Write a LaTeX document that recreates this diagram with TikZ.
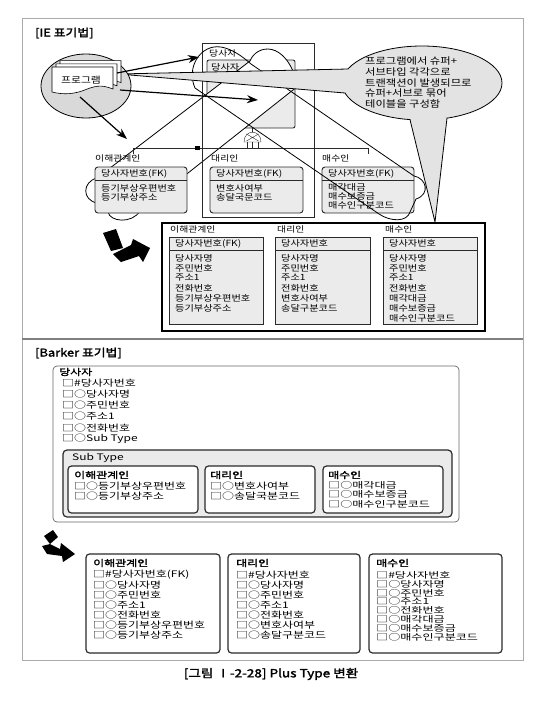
\documentclass[tikz,border=0pt]{standalone}
\usepackage{fontspec}
\setmainfont{Noto Sans CJK KR}[FakeStretch=1.2,AutoFakeBold=2]
\newfontfamily\bkfont{Noto Sans CJK KR}[FakeStretch=1.33,AutoFakeBold=2]
\newfontfamily\bkflat{Noto Sans CJK KR}[FakeStretch=1.42,AutoFakeBold=2]
\usetikzlibrary{arrows.meta}

\definecolor{boxgray}{HTML}{EBEBEB}
\definecolor{ink}{HTML}{2A2A2A}
\definecolor{framegray}{HTML}{ABABAB}
\definecolor{callgray}{HTML}{E3E3E3}

\tikzset{
  txt/.style={inner sep=0pt, anchor=west, font=\fontsize{8.5}{10}\selectfont},
  lbl/.style={inner sep=0pt, anchor=west, font=\fontsize{8.2}{10}\selectfont},
  title/.style={inner sep=0pt, anchor=west, font=\fontsize{10.7}{12}\selectfont\bfseries},
  btxt/.style={inner sep=0pt, anchor=west, font=\bkfont\fontsize{9}{10}\selectfont},
  bflat/.style={inner sep=0pt, anchor=west, font=\bkflat\fontsize{8.5}{9}\selectfont},
  bhead/.style={inner sep=0pt, anchor=west, font=\bkfont\fontsize{9}{10}\selectfont\bfseries},
  iebox/.style={draw=ink, line width=0.9pt, fill=boxgray},
  bkbox/.style={draw=ink, line width=1.2pt, fill=white, rounded corners=3.5pt},
  arr/.style={line width=1.2pt, -{Stealth[length=11pt,width=8pt]}},
  cross/.style={line width=0.8pt},
}

\begin{document}
\begin{tikzpicture}[x=1pt,y=-1pt]
\useasboundingbox (0,0) rectangle (550,704);

% frame
\draw[framegray, line width=0.8pt] (22,18) rectangle (523,660);
\draw[gray, line width=1.1pt] (22,339) -- (523,339);

%%% IE
\node[title] (ietitle) at (35,33) {[IE 표기법]};

% super type, crossed out
\filldraw[iebox, rounded corners=2pt] (207,60) rectangle (295,128);
\node[txt] (supkey) at (211,67) {당사자};
\draw[ink] (207,74) -- (295,74);
\filldraw[cross, fill=white] (250,61) .. controls (256,45) and (286,38) .. (298,86)
  -- (140,211) .. controls (132,224) and (110,222) .. (108,212)
  -- (97,203) .. controls (82,200) and (82,182) .. (97,178) -- cycle;

\draw[ink, line width=0.8pt] (202,43) rectangle (314,217);
\node[lbl] (suplbl) at (209,53) {당사자};

% subtype mark
\draw[ink] (252.5,128) -- (252.5,132);
\draw[ink] (244,142) .. controls (244,129) and (261,129) .. (261,142) -- cycle;
\draw[ink] (246.5,134) -- (258.5,141) (258.5,134) -- (246.5,141);
\foreach \x in {247,252.5,258}
  \draw[ink] (\x,142) -- (\x,148);
\draw[ink] (133,154) -- (133,148) -- (368,148) -- (368,154);
\fill (195,146) rectangle (200,150);

% subtypes
\node[lbl] (s1lbl) at (95,158) {이해관계인};
\node[lbl] (s2lbl) at (211,158) {대리인};
\node[lbl] (s3lbl) at (322,158) {매수인};

\filldraw[iebox, rounded corners=3pt] (95,167) rectangle (187,213);
\draw[ink] (95,180) -- (187,180);
\node[txt] (s1key) at (101,173.5) {당사자번호(FK)};
\foreach \t [count=\i from 0] in {등기부상우편번호,등기부상주소}
  \node[txt] (s1a\i) at (101,188+9.5*\i) {\t};

\filldraw[iebox, rounded corners=3pt] (210,167) rectangle (303,213);
\draw[ink] (210,180) -- (303,180);
\node[txt] (s2key) at (216,173.5) {당사자번호(FK)};
\foreach \t [count=\i from 0] in {변호사여부,송달국문코드}
  \node[txt] (s2a\i) at (216,188+9.5*\i) {\t};

\filldraw[iebox, rounded corners=3pt] (322,167) rectangle (414,213);
\draw[ink] (322,180) -- (414,180);
\node[txt] (s3key) at (328,173.5) {당사자번호(FK)};
\foreach \t [count=\i from 0] in {매각대금,매수보증금,매수인구분코드}
  \node[txt] (s3a\i) at (328,187+9*\i) {\t};

\draw[cross] (195,88) .. controls (186,68) and (200,44) .. (221,47)
  .. controls (232,49) and (242,56) .. (251,64) -- (414,176)
  .. controls (426,178) and (431,194) .. (416,199) -- (410,212)
  .. controls (407,222) and (391,222) .. (379,214) -- cycle;

% callout
\fill[callgray] (118,74) -- (348,69) -- (352,81) -- (345,93) -- cycle;
\fill[callgray] (410,119.6) -- (435,222) -- (447,118) -- (430,112) -- cycle;
\filldraw[draw=black, fill=callgray, line width=0.8pt] (422,83) ellipse [x radius=80, y radius=37];
\fill[callgray] (118,74) -- (348,69) -- (352,81) -- (345,93) -- cycle;
\fill[callgray] (410,119.6) -- (435,222) -- (447,118) -- (430,112) -- cycle;
\draw[line width=0.8pt] (348,69) -- (118,74) -- (345,93);
\draw[line width=0.8pt] (410,119.6) -- (435,222) -- (447,118);
\node[inner sep=0pt, anchor=north west, align=left, font=\fontsize{9.4}{10.6}\selectfont]
  (note) at (365,57) {프로그램에서 슈퍼+\\서브타입 각각으로\\트랜잭션이 발생되므로\\슈퍼+서브로 묶어\\테이블을 구성함};

% program
\filldraw[draw=black, fill=gray!30, line width=0.8pt] (86,86) ellipse [x radius=45, y radius=32];
\foreach \d in {8,4,0}
  \filldraw[draw=black, fill=white, line width=0.6pt] (52+\d,67-0.8*\d) -- (113+\d,67-0.8*\d) -- (113+\d,89-0.8*\d)
    .. controls (100+\d,84-0.8*\d) and (95+\d,86-0.8*\d) .. (82+\d,91-0.8*\d)
    .. controls (70+\d,95-0.8*\d) and (60+\d,94-0.8*\d) .. (52+\d,92-0.8*\d) -- cycle;
\node[txt, anchor=center, font=\fontsize{9}{10}\selectfont] (prog) at (81,80) {프로그램};

\coordinate (p1) at (117,73);  \coordinate (t1) at (199,57);
\coordinate (p2) at (120,90);  \coordinate (t2) at (258,100);
\coordinate (p3) at (80,97);   \coordinate (t3) at (127,139);
\draw[arr] (p1) -- (t1);
\draw[arr] (p2) -- (t2);
\draw[arr] (p3) -- (t3);

% turn mark
\fill (103,233) -- (116,229) -- (123,248) -- (111,251) -- cycle;
\fill (113,254) -- (131,245) -- (133,239) -- (150,248) -- (143,262) -- (139,256) -- (121,262) -- cycle;

% result tables
\draw[line width=1.2pt] (162,223) rectangle (485,331);
\node[lbl] (t1lbl) at (170,229.5) {이해관계인};
\node[lbl] (t2lbl) at (277,229.5) {대리인};
\node[lbl] (t3lbl) at (385,229.5) {매수인};

\filldraw[iebox] (169,237) rectangle (263,324);
\draw[ink] (169,250) -- (263,250);
\node[txt] (t1key) at (175,243.5) {당사자번호(FK)};
\foreach \t [count=\i from 0] in {당사자명,주민번호,주소1,전화번호,등기부상우편번호,등기부상주소}
  \node[txt] (t1a\i) at (175,258+10*\i) {\t};

\filldraw[iebox] (275,237) rectangle (370,324);
\draw[ink] (275,250) -- (370,250);
\node[txt] (t2key) at (281,243.5) {당사자번호};
\foreach \t [count=\i from 0] in {당사자명,주민번호,주소1,전화번호,변호사여부,송달구분코드}
  \node[txt] (t2a\i) at (281,258+10*\i) {\t};

\filldraw[iebox] (383,237) rectangle (477,324);
\draw[ink] (383,250) -- (477,250);
\node[txt] (t3key) at (389,243.5) {당사자번호};
\foreach \t [count=\i from 0] in {당사자명,주민번호,주소1,전화번호,매각대금,매수보증금,매수인구분코드}
  \node[txt] (t3a\i) at (389,258+10*\i) {\t};

%%% Barker
\node[title] (bktitle) at (35,353) {[Barker 표기법]};

\draw[draw=gray!80!black, line width=0.7pt, rounded corners=4pt] (53,366) rectangle (459,522);
\node[bhead] (bsup) at (59,372) {당사자};
\foreach \t [count=\i from 0] in {□\#당사자번호,□○당사자명,□○주민번호,□○주소1,□○전화번호,□○Sub Type}
  \node[btxt] (bsa\i) at (62,383+11.2*\i) {\t};

\filldraw[draw=ink, fill=boxgray, line width=1.2pt, rounded corners=4pt] (63,450) rectangle (452,517);
\node[btxt] (bsub) at (72,458) {Sub Type};

\filldraw[bkbox] (68,466) rectangle (198,513);
\node[bhead] (bs1) at (74,475) {이해관계인};
\foreach \t [count=\i from 0] in {□○등기부상우편번호,□○등기부상주소}
  \node[btxt] (bs1a\i) at (74,486+10*\i) {\t};

\filldraw[bkbox] (205,466) rectangle (315,513);
\node[bhead] (bs2) at (210,475) {대리인};
\foreach \t [count=\i from 0] in {□○변호사여부,□○송달국분코드}
  \node[btxt] (bs2a\i) at (210,486+10*\i) {\t};

\filldraw[bkbox] (323,466) rectangle (443,513);
\node[bhead] (bs3) at (328,475) {매수인};
\foreach \t [count=\i from 0] in {□○매각대금,□○매수보증금,□○매수인구분코드}
  \node[bflat] (bs3a\i) at (328,485+9.5*\i) {\t};

% turn mark
\fill (44,536) -- (53,530) -- (58,537) -- (50,544) -- cycle;
\fill (42,546) -- (50,544) -- (60,549) -- (61,543) -- (75,554) -- (63,562) -- (62,556) -- (47,554) -- cycle;

\filldraw[bkbox] (86,554) rectangle (220,653);
\node[bhead] (r1) at (93,563) {이해관계인};
\foreach \t [count=\i from 0] in {□\#당사자번호(FK),□○당사자명,□○주민번호,□○주소1,□○전화번호,□○등기부상우편번호,□○등기부상주소}
  \node[btxt] (r1a\i) at (93,575+10.1*\i) {\t};

\filldraw[bkbox] (228,554) rectangle (360,653);
\node[bhead] (r2) at (236,563) {대리인};
\foreach \t [count=\i from 0] in {□\#당사자번호,□○당사자명,□○주민번호,□○주소1,□○전화번호,□○변호사여부,□○송달구분코드}
  \node[btxt] (r2a\i) at (236,575+10.1*\i) {\t};

\filldraw[bkbox] (369,554) rectangle (502,653);
\node[bhead] (r3) at (376,563) {매수인};
\foreach \t [count=\i from 0] in {□\#당사자번호,□○당사자명,□○주민번호,□○주소1,□○전화번호,□○매각대금,□○매수보증금,□○매수인구분코드}
  \node[bflat] (r3a\i) at (376,575+8.9*\i) {\t};

% caption
\node[inner sep=0pt, font=\fontsize{11.3}{12}\selectfont\bfseries] (cap) at (271,674) {[그림 Ⅰ-2-28] Plus Type 변환};

\end{tikzpicture}
\end{document}
